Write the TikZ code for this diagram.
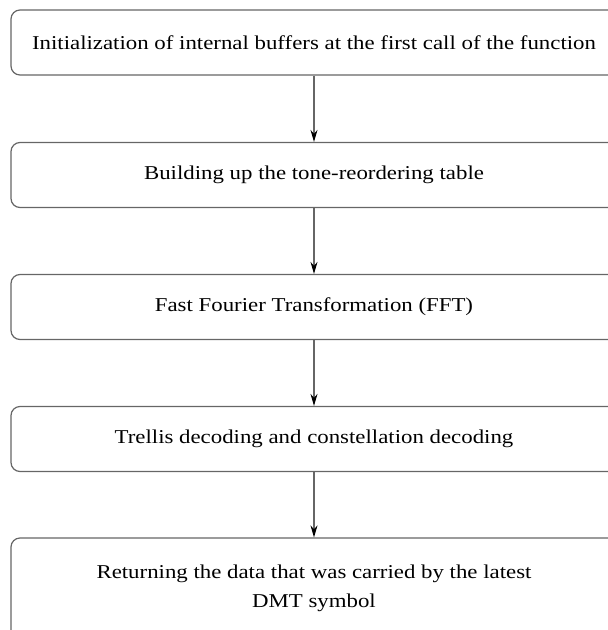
\documentclass[tikz,border=0pt]{standalone}
\usepackage{fontspec}
\setmainfont[FakeStretch=1.165]{Liberation Serif}
\usetikzlibrary{arrows.meta}
\begin{document}
\begin{tikzpicture}[x=1pt,y=-1pt,
 box/.style={draw=black!60, line width=1.2pt, rounded corners=9pt, minimum width=606pt, minimum height=65pt, align=center, font=\fontsize{19.6}{29.5}\selectfont, inner sep=0pt},
 arr/.style={draw=black!60, line width=1.2pt, -{Stealth[length=12pt,width=7pt,color=black]}}]
\useasboundingbox (0,0) rectangle (608,630);
\clip (0,0) rectangle (608,630);
\node[box] (b1) at (314,42.5) {Initialization of internal buffers at the first call of the function};
\node[box] (b2) at (314,175) {Building up the tone-reordering table};
\node[box] (b3) at (314,307) {Fast Fourier Transformation (FFT)};
\node[box] (b4) at (314,439) {Trellis decoding and constellation decoding};
\node[box, minimum height=101pt] (b5) at (314,588.5) {Returning the data that was carried by the latest\\DMT symbol};
\draw[arr] (b1.south) -- (b2.north);
\draw[arr] (b2.south) -- (b3.north);
\draw[arr] (b3.south) -- (b4.north);
\draw[arr] (b4.south) -- (b5.north);
\end{tikzpicture}
\end{document}
